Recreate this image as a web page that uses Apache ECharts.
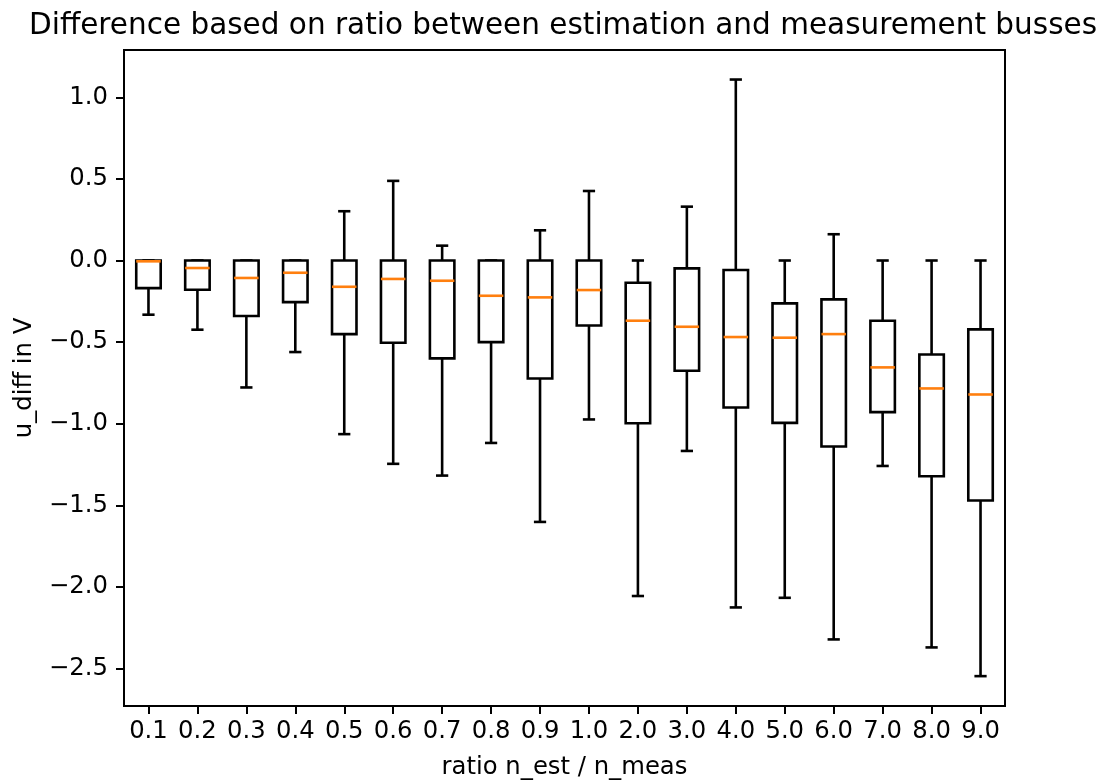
<!DOCTYPE html>
<html>
<head>
<meta charset="utf-8">
<script src="https://cdn.jsdelivr.net/npm/echarts@6/dist/echarts.min.js"></script>
<style>
html, body { margin: 0; padding: 0; background: #fff; }
#main { width: 1109px; height: 782px; }
</style>
</head>
<body>
<div id="main"></div>
<script>
// categories (ratio n_est / n_meas)
var categories = ['0.1','0.2','0.3','0.4','0.5','0.6','0.7','0.8','0.9','1.0',
                  '2.0','3.0','4.0','5.0','6.0','7.0','8.0','9.0'];
// box statistics
var whiskerLow  = [-0.332,-0.424,-0.778,-0.561,-1.064,-1.246,-1.318,-1.118,-1.602,-0.974,
                   -2.056,-1.167,-2.126,-2.067,-2.322,-1.259,-2.371,-2.547];
var q1          = [-0.169,-0.179,-0.340,-0.255,-0.451,-0.504,-0.600,-0.500,-0.723,-0.398,
                   -0.997,-0.676,-0.901,-0.995,-1.140,-0.929,-1.322,-1.471];
var median      = [-0.005,-0.046,-0.107,-0.075,-0.161,-0.113,-0.124,-0.216,-0.226,-0.181,
                   -0.369,-0.406,-0.469,-0.473,-0.451,-0.655,-0.784,-0.821];
var q3          = [0,0,0,0,0,0,0,0,0,0,
                   -0.136,-0.048,-0.058,-0.263,-0.238,-0.369,-0.576,-0.422];
var whiskerHigh = [0,0,0,0,0.302,0.488,0.091,0,0.185,0.426,
                   0,0.330,1.109,0,0.161,0,0,0];
// y tick labels
var yTicks = [-2.5,-2.0,-1.5,-1.0,-0.5,0.0,0.5,1.0];

var FONT = 'DejaVu Sans';

var boxData = [];
for (var i = 0; i < categories.length; i++) {
    boxData.push([i, whiskerLow[i], q1[i], median[i], q3[i], whiskerHigh[i]]);
}

function renderBox(params, api) {
    var x = api.value(0);
    var band = api.size([1, 0])[0];
    var bw = band * 0.5, cw = band * 0.25;
    var pLow = api.coord([x, api.value(1)]);
    var pQ1 = api.coord([x, api.value(2)]);
    var pMed = api.coord([x, api.value(3)]);
    var pQ3 = api.coord([x, api.value(4)]);
    var pHigh = api.coord([x, api.value(5)]);
    var cx = pQ1[0];
    var black = {stroke: '#000', lineWidth: 2.6, fill: null};
    return {
        type: 'group',
        children: [
            {type: 'line', shape: {x1: cx, y1: pQ1[1], x2: cx, y2: pLow[1]}, style: black},
            {type: 'line', shape: {x1: cx, y1: pQ3[1], x2: cx, y2: pHigh[1]}, style: black},
            {type: 'line', shape: {x1: cx - cw / 2, y1: pLow[1], x2: cx + cw / 2, y2: pLow[1]}, style: black},
            {type: 'line', shape: {x1: cx - cw / 2, y1: pHigh[1], x2: cx + cw / 2, y2: pHigh[1]}, style: black},
            {type: 'rect', shape: {x: cx - bw / 2, y: pQ3[1], width: bw, height: pQ1[1] - pQ3[1]},
             style: {stroke: '#000', lineWidth: 2.6, fill: '#fff'}},
            {type: 'line', shape: {x1: cx - bw / 2, y1: pMed[1], x2: cx + bw / 2, y2: pMed[1]},
             style: {stroke: '#ff7f0e', lineWidth: 2.6}}
        ]
    };
}

var chart = echarts.init(document.getElementById('main'));
chart.setOption({
    animation: false,
    backgroundColor: '#fff',
    graphic: [{
        type: 'text',
        x: 563,
        y: 26,
        style: {
            text: 'Difference based on ratio between estimation and measurement busses',
            font: '29.5px "' + FONT + '"',
            fill: '#000',
            textAlign: 'center',
            textVerticalAlign: 'middle'
        }
    }],
    grid: {
        left: 124, right: 104, top: 50, bottom: 76,
        outerBoundsMode: 'none',
        containLabel: false,
        show: true, borderColor: '#000', borderWidth: 2,
        backgroundColor: 'transparent'
    },
    xAxis: {
        type: 'category',
        data: categories,
        boundaryGap: true,
        name: 'ratio n_est / n_meas',
        nameLocation: 'middle',
        nameGap: 50,
        nameTextStyle: {color: '#000', fontFamily: FONT, fontSize: 24.3},
        axisLine: {show: true, onZero: false, lineStyle: {color: '#000', width: 2}},
        axisTick: {show: true, alignWithLabel: true, length: 8, lineStyle: {color: '#000', width: 2}},
        axisLabel: {color: '#000', fontFamily: FONT, fontSize: 24.3, margin: 14, interval: 0},
        splitLine: {show: false}
    },
    yAxis: {
        type: 'value',
        min: -2.73,
        max: 1.29,
        name: 'u_diff in V',
        nameLocation: 'middle',
        nameRotate: 90,
        nameGap: 87,
        nameTextStyle: {color: '#000', fontFamily: FONT, fontSize: 24.3},
        axisLine: {show: true, onZero: false, lineStyle: {color: '#000', width: 2}},
        axisTick: {show: true, length: 8, customValues: yTicks, lineStyle: {color: '#000', width: 2}},
        axisLabel: {
            color: '#000', fontFamily: FONT, fontSize: 24.3, margin: 16,
            customValues: yTicks,
            formatter: function (v) { return v.toFixed(1).replace('-', '\u2212'); }
        },
        splitLine: {show: false}
    },
    series: [{
        type: 'custom',
        renderItem: renderBox,
        encode: {x: 0, y: [1, 2, 3, 4, 5]},
        data: boxData,
        z: 3
    }]
});
</script>
</body>
</html>
